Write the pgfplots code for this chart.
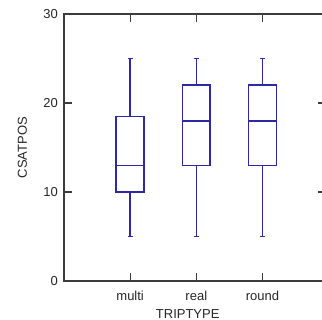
\documentclass[border=0pt]{standalone}
\usepackage{pgfplots}
\pgfplotsset{compat=1.18}
\usepackage{fontspec}
\setmainfont{Liberation Sans}
\definecolor{boxblue}{RGB}{45,40,170}
\definecolor{axgray}{RGB}{60,60,60}
\tikzset{bx/.style={draw=boxblue, line width=1.6bp, mark=none, solid, line join=miter}}
\begin{document}
\begin{tikzpicture}
\begin{axis}[
  scale only axis,
  width=262bp, height=267bp,
  xmin=0, xmax=3.96, ymin=0, ymax=30,
  xtick={1,2,3}, xticklabels={multi,real,round},
  ytick={0,10,20,30},
  tick align=inside,
  major tick length=8bp,
  axis line style={axgray, line width=1.4bp},
  tick style={axgray, line width=1.2bp},
  font=\fontsize{13bp}{15bp}\selectfont,
  /pgf/number format/assume math mode=true,
  xticklabel style={anchor=base, inner sep=0pt, yshift=-19bp, text=black!85},
  yticklabel style={anchor=east, inner sep=0pt, xshift=-6bp, text=black!85},
  xlabel={TRIPTYPE},
  ylabel={CSATPOS},
  xlabel style={at={(axis cs:1.87,-4.16)}, anchor=base, inner sep=0pt, text=black!85},
  ylabel style={at={(axis cs:-0.63,15)}, anchor=center, inner sep=0pt, text=black!85},
  unbounded coords=jump,
]
% multi: whiskers 5/25, quartiles 10/18.5, median 13
\addplot[bx] coordinates {(0.79,10) (1.21,10) (1.21,18.5) (0.79,18.5) (0.79,10)} -- cycle;
\addplot[bx] coordinates {(0.79,13) (1.21,13)};
\addplot[bx] coordinates {(1,18.5) (1,25) (nan,nan) (0.9625,25) (1.0375,25)};
\addplot[bx] coordinates {(1,10) (1,5) (nan,nan) (0.9625,5) (1.0375,5)};
% real: whiskers 5/25, quartiles 13/22, median 18
\addplot[bx] coordinates {(1.79,13) (2.21,13) (2.21,22) (1.79,22) (1.79,13)} -- cycle;
\addplot[bx] coordinates {(1.79,18) (2.21,18)};
\addplot[bx] coordinates {(2,22) (2,25) (nan,nan) (1.9625,25) (2.0375,25)};
\addplot[bx] coordinates {(2,13) (2,5) (nan,nan) (1.9625,5) (2.0375,5)};
% round: whiskers 5/25, quartiles 13/22, median 18
\addplot[bx] coordinates {(2.79,13) (3.21,13) (3.21,22) (2.79,22) (2.79,13)} -- cycle;
\addplot[bx] coordinates {(2.79,18) (3.21,18)};
\addplot[bx] coordinates {(3,22) (3,25) (nan,nan) (2.9625,25) (3.0375,25)};
\addplot[bx] coordinates {(3,13) (3,5) (nan,nan) (2.9625,5) (3.0375,5)};
\coordinate (bl) at (rel axis cs:0,0);
\coordinate (tl) at (rel axis cs:0,1);
\end{axis}
\pgfresetboundingbox
\path ([xshift=-64bp,yshift=-39bp]bl) rectangle ([xshift=258bp,yshift=14bp]tl);
\end{tikzpicture}
\end{document}
